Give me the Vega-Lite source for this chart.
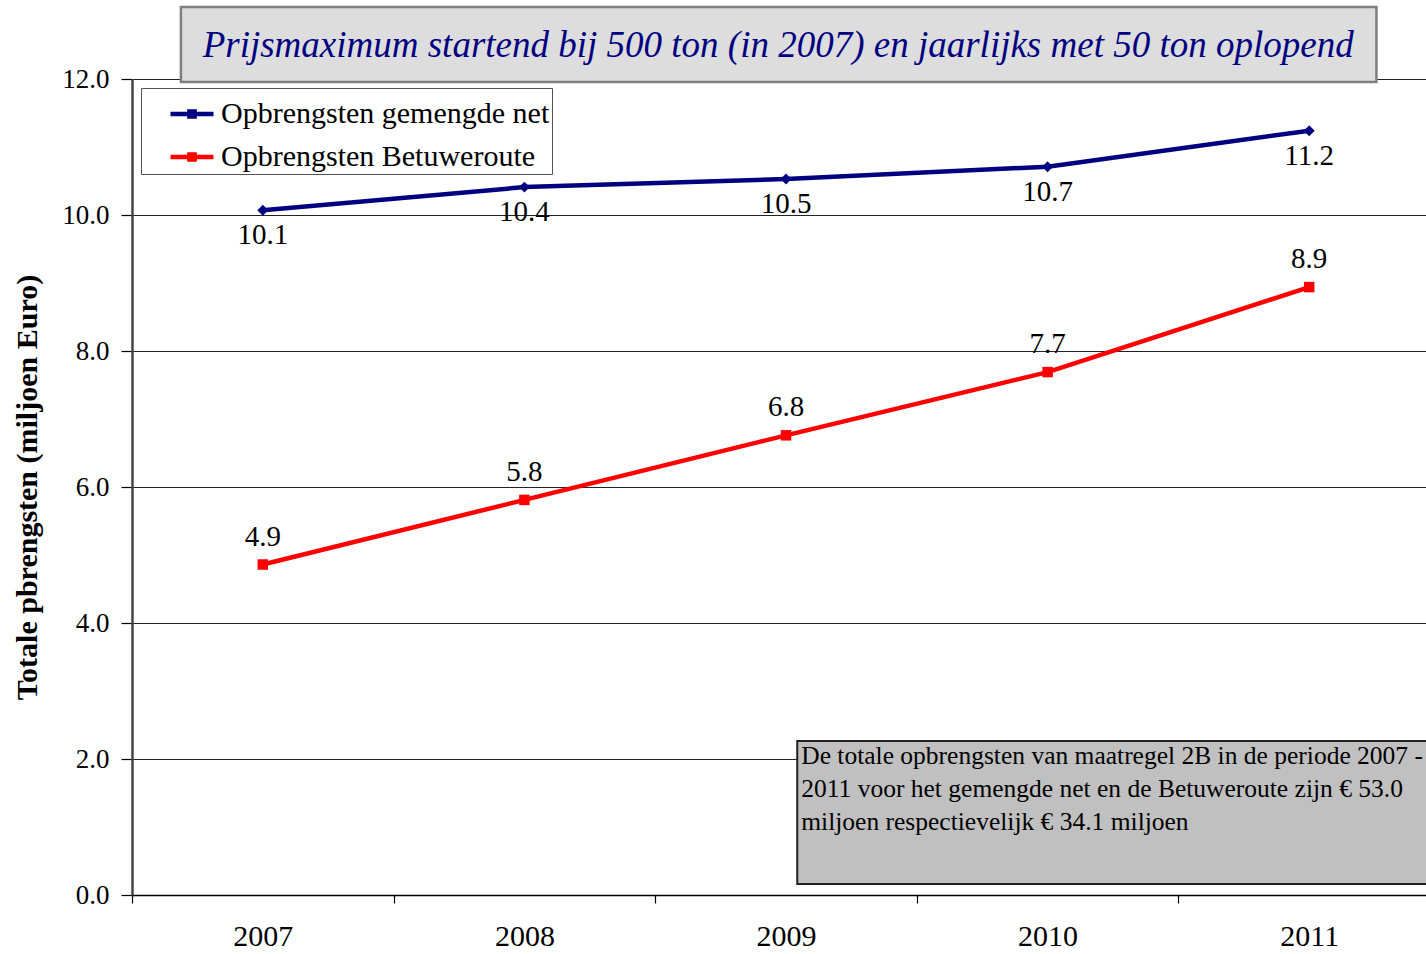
{
  "$schema": "https://vega.github.io/schema/vega-lite/v6.json",
  "width": 1308,
  "height": 816,
  "autosize": {"type": "none"},
  "padding": {"left": 132, "top": 79, "right": 0, "bottom": 59},
  "background": "white",
  "config": {"view": {"stroke": null}, "font": "Liberation Serif"},
  "datasets": {
    "seriesdata": [
      {"year": "2007", "series": "Opbrengsten gemengde net", "value": 10.07},
      {"year": "2008", "series": "Opbrengsten gemengde net", "value": 10.41},
      {"year": "2009", "series": "Opbrengsten gemengde net", "value": 10.53},
      {"year": "2010", "series": "Opbrengsten gemengde net", "value": 10.71},
      {"year": "2011", "series": "Opbrengsten gemengde net", "value": 11.24},
      {"year": "2007", "series": "Opbrengsten Betuweroute", "value": 4.86},
      {"year": "2008", "series": "Opbrengsten Betuweroute", "value": 5.81},
      {"year": "2009", "series": "Opbrengsten Betuweroute", "value": 6.76},
      {"year": "2010", "series": "Opbrengsten Betuweroute", "value": 7.69},
      {"year": "2011", "series": "Opbrengsten Betuweroute", "value": 8.94}
    ],
    "notes": [
      {"kind": "title", "text": "Prijsmaximum startend bij 500 ton (in 2007) en jaarlijks met 50 ton oplopend"},
      {"kind": "note", "text": "De totale opbrengsten van maatregel 2B in de periode 2007 -\n2011 voor het gemengde net en de Betuweroute zijn € 53.0\nmiljoen respectievelijk € 34.1 miljoen"}
    ]
  },
  "resolve": {"scale": {"x": "independent"}},
  "layer": [
    {
      "data": {"name": "seriesdata"},
      "encoding": {
        "x": {
          "field": "year", "type": "ordinal",
          "scale": {"type": "band", "paddingInner": 0, "paddingOuter": 0},
          "bandPosition": 0.5,
          "axis": {
            "tickBand": "extent", "labelAngle": 0, "labelFontSize": 30, "labelColor": "black",
            "labelFont": "Liberation Serif",
            "tickSize": 8, "tickColor": "black", "tickWidth": 1.2, "domainColor": "black", "domainWidth": 1.5,
            "labelPadding": 18, "title": null, "grid": false
          }
        },
        "y": {
          "field": "value", "type": "quantitative",
          "scale": {"domain": [0, 12], "nice": false, "zero": true},
          "axis": {
            "values": [0, 2, 4, 6, 8, 10, 12], "format": ".1f",
            "grid": true, "gridColor": "#222222", "gridWidth": 1.2,
            "domainColor": "#444444", "domainWidth": 2.5,
            "tickColor": "black", "tickSize": 11, "tickWidth": 1.2,
            "labelFontSize": 27, "labelColor": "black", "labelPadding": 12, "labelFont": "Liberation Serif",
            "title": "Totale pbrengsten (miljoen Euro)", "titleFontSize": 30, "titleFontWeight": "bold",
            "titleColor": "black", "titleFont": "Liberation Serif", "titlePadding": 19
          }
        },
        "color": {
          "field": "series", "type": "nominal",
          "scale": {"domain": ["Opbrengsten gemengde net", "Opbrengsten Betuweroute"], "range": ["#000080", "#ff0000"]},
          "legend": {
            "title": null, "orient": "top-left", "offset": 9,
            "fillColor": "white", "strokeColor": "#555555",
            "padding": 2, "symbolOffset": 25,
            "symbolType": "M-1,0H1M-0.12,-0.12H0.12V0.12H-0.12Z",
            "symbolSize": 1849, "symbolStrokeWidth": 4.5,
            "labelFontSize": 30, "labelFont": "Liberation Serif", "labelColor": "black", "labelOffset": 5,
            "labelExpr": "datum.label + '\u00a0\u00a0\u00a0'",
            "rowPadding": 4, "labelLimit": 700
          }
        }
      },
      "layer": [
        {"mark": {"type": "line", "strokeWidth": 4.5}},
        {
          "transform": [{"filter": "datum.series === 'Opbrengsten gemengde net'"}],
          "mark": {"type": "point", "filled": true, "opacity": 1, "shape": "diamond", "size": 120}
        },
        {
          "transform": [{"filter": "datum.series === 'Opbrengsten Betuweroute'"}],
          "mark": {"type": "point", "filled": true, "opacity": 1, "shape": "square", "size": 110}
        },
        {
          "transform": [{"filter": "datum.series === 'Opbrengsten gemengde net'"}],
          "mark": {"type": "text", "dy": 25, "fontSize": 29, "font": "Liberation Serif", "color": "black"},
          "encoding": {"text": {"field": "value", "type": "quantitative", "format": ".1f"}, "color": {"value": "black"}}
        },
        {
          "transform": [{"filter": "datum.series === 'Opbrengsten Betuweroute'"}],
          "mark": {"type": "text", "dy": -28, "fontSize": 29, "font": "Liberation Serif", "color": "black"},
          "encoding": {"text": {"field": "value", "type": "quantitative", "format": ".1f"}, "color": {"value": "black"}}
        }
      ]
    },
    {
      "data": {"name": "notes"},
      "layer": [
        {
          "transform": [{"filter": "datum.kind === 'title'"}],
          "mark": {"type": "rect", "fill": "#dddddd", "stroke": "#808080", "strokeWidth": 2.5},
          "encoding": {
            "x": {"datum": 2006.687, "type": "quantitative", "scale": {"domain": [2006.5, 2011.5], "nice": false, "zero": false}, "axis": null},
            "x2": {"datum": 2011.257},
            "y": {"datum": 13.06, "type": "quantitative", "scale": {"domain": [0, 12], "nice": false}},
            "y2": {"datum": 11.956}
          }
        },
        {
          "transform": [{"filter": "datum.kind === 'title'"}],
          "mark": {"type": "text", "fontSize": 37, "fontStyle": "italic", "font": "Liberation Serif", "color": "#000080", "align": "center", "baseline": "middle"},
          "encoding": {
            "x": {"datum": 2008.97, "type": "quantitative", "scale": {"domain": [2006.5, 2011.5], "nice": false, "zero": false}, "axis": null},
            "y": {"datum": 12.485, "type": "quantitative", "scale": {"domain": [0, 12], "nice": false}},
            "text": {"field": "text", "type": "nominal"}
          }
        },
        {
          "transform": [{"filter": "datum.kind === 'note'"}],
          "mark": {"type": "rect", "fill": "#c0c0c0", "stroke": "#222222", "strokeWidth": 2},
          "encoding": {
            "x": {"datum": 2009.043, "type": "quantitative", "scale": {"domain": [2006.5, 2011.5], "nice": false, "zero": false}, "axis": null},
            "x2": {"datum": 2011.6},
            "y": {"datum": 2.265, "type": "quantitative", "scale": {"domain": [0, 12], "nice": false}},
            "y2": {"datum": 0.162}
          }
        },
        {
          "transform": [{"filter": "datum.kind === 'note'"}],
          "mark": {"type": "text", "fontSize": 25.5, "font": "Liberation Serif", "color": "black", "align": "left", "baseline": "top", "dx": 4, "dy": 3, "lineHeight": 33, "lineBreak": "\n"},
          "encoding": {
            "x": {"datum": 2009.043, "type": "quantitative", "scale": {"domain": [2006.5, 2011.5], "nice": false, "zero": false}, "axis": null},
            "y": {"datum": 2.265, "type": "quantitative", "scale": {"domain": [0, 12], "nice": false}},
            "text": {"field": "text", "type": "nominal"}
          }
        }
      ]
    }
  ]
}
